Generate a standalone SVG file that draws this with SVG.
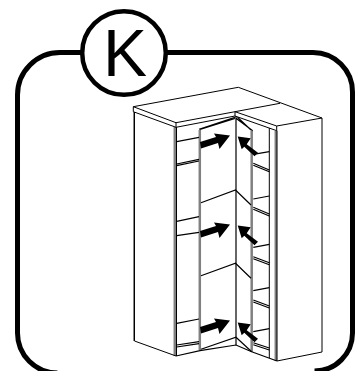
<svg xmlns="http://www.w3.org/2000/svg" width="358" height="371" viewBox="0 0 358 371">
<defs>
<path id="ar" class="a" d="M200 142L216 137L214 133.500L230 135.500L219.500 149L218 143L201 148.500Z"/>
<path id="al" class="a" d="M237.700 136.500L250.700 138.300L246.700 144.300L258 152.700L254.500 156.200L244.300 146.700L241.700 149.300Z"/>
</defs>
<style>
.frame{fill:none;stroke:#000;stroke-width:5}
.l{fill:none;stroke:#000;stroke-width:1}
.m{fill:none;stroke:#000;stroke-width:1.200}
.g{fill:none;stroke:#808080}
.a{fill:#000;stroke:none}
text{font-family:"Liberation Sans",Arial,sans-serif;font-size:66px;fill:#000}
</style>
<rect width="358" height="371" fill="#fff"/>
<g id="frame"><path class="frame" d="M82 52.500H60A42.500 42.500 0 0 0 17.500 95V333A40 40 0 0 0 57.500 373M166 52.500H313A39.500 39.500 0 0 1 352.500 92V333A38 38 0 0 1 314.500 371"/></g>
<g id="badge"><circle cx="124" cy="53" r="41.800" fill="#fff" stroke="#000" stroke-width="4.500"/><text x="103" y="76">K</text></g>
<g id="wardrobe">
<path class="g" stroke-width="2.500" d="M174.800 127V356M199.800 130V350M251.700 131V352M275.800 131V361"/>
<path class="g" stroke-width="1.500" d="M133.800 112V341"/>
<path class="l" d="M133.300 106.700L238.300 87.300L322 118L276.700 126V130.700M133.300 106.700V111.700L176 127.300V122.700L133.300 106.700M176 122.700L280 103.300M176 127.300L235 116M235 111.700L276.700 126M235 116L276.700 130.700M235 111.700V116"/>
<path class="l" d="M134.500 112V341L176 356M176.500 127V356M277 130.700V361L322 352V118M269.300 128V358"/>
<path class="m" d="M199 129.300L235 117.300M200 129.500L235 118.500M236 116V345M236 118.300L252.700 130.700M237.500 117.300L251 130"/>
<path class="m" d="M176.700 141.700L199 137.300M176.700 164L199 159.300M176.700 165.700L199 161M176.700 221.300L199 216.700M176.700 235.700L199 232.300M176.700 323.300L199 319M176.700 345L199 341.700M176.700 347L199 343.700"/>
<path class="m" d="M253.300 154.300L269.300 151.700M253.300 163.300L269.300 170M253.300 165.300L269.300 171.700M253.300 199L269.300 196M253.300 207.300L269.300 214M253.300 209.300L269.300 216M253.300 247.300L269.300 244.300M253.300 256.700L269.300 262.700M253.300 258.700L269.300 264.700M253.300 290.700L269.300 287.700M253.300 300L269.300 306M253.300 302L269.300 308M253.300 331.700L269.300 328.700M253.300 342.700L269.300 348M253.300 344.700L269.300 350"/>
<path class="m" d="M201 202.700L235.500 190L251 205M201 275.700L235.500 263.300L251 278.300M201 349.300L236 337.300L251.700 351.700"/>
<path class="m" d="M176 356L200 350.700L236 345L251.700 351.700L277 361"/>
</g>
<g id="arrows">
<use href="#ar"/><use href="#ar" y="89"/><use href="#ar" y="185"/>
<use href="#al"/><use href="#al" y="89"/><use href="#al" y="186"/>
</g>
</svg>
